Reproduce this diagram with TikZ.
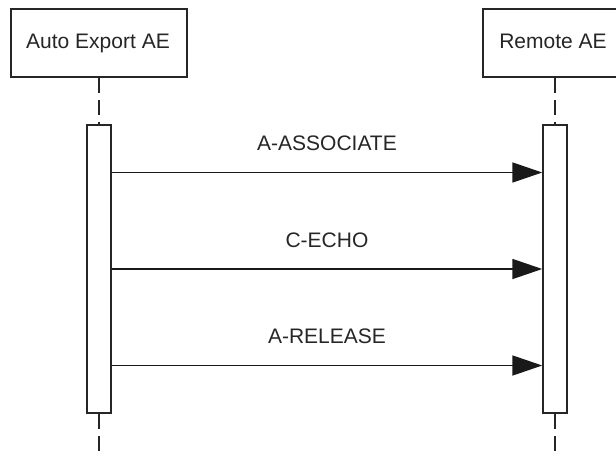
\documentclass[tikz,border=0pt]{standalone}
\usepackage{fontspec}
\setmainfont{Liberation Sans}
\usetikzlibrary{arrows.meta,calc}
\begin{document}
\begin{tikzpicture}[x=1pt,y=-1pt,
  every node/.style={font=\fontsize{21}{25}\selectfont, text=black!85, inner sep=0pt},
  actor/.style={draw=black!85, line width=1.5pt, fill=white, minimum height=68pt},
  bar/.style={draw=black!85, line width=1.5pt, fill=white, minimum width=24pt, minimum height=288pt},
  life/.style={draw=black!85, line width=1.5pt, dash pattern=on 15pt off 7pt},
  msg/.style={draw=black!90, line width=1.8pt, -{Triangle[length=30pt,width=20pt]}},
  lbl/.style={anchor=base}]
\useasboundingbox (0,0) rectangle (616,456);
\node[actor, minimum width=176pt] (a) at (99,43) {};
\node[anchor=base] (at) at (98,48) {Auto Export AE};
\node[actor, minimum width=144pt] (b) at (555,43) {};
\node[anchor=base] (bt) at (553,48) {Remote AE};
\node[bar] (a1) at (99,269) {};
\node[bar] (b1) at (555,269) {};
\coordinate (ae) at (99,456);
\coordinate (be) at (555,456);
\draw[life] (a.south) -- (a1.north);
\draw[life] (a1.south) -- (ae);
\draw[life] (b.south) -- (b1.north);
\draw[life] (b1.south) -- (be);
\foreach \p/\t/\n in {1/6/A-ASSOCIATE, 1/2/C-ECHO, 5/6/A-RELEASE}{
  \draw[msg] ($(a1.north east)!\p/\t!(a1.south east)$) coordinate (s) -- ($(b1.north west)!\p/\t!(b1.south west)$) coordinate (e);
  \node[lbl] (l\n) at ($($(s)!0.5!(e)$)+(0,-22)$) {\n};
}
\end{tikzpicture}
\end{document}
